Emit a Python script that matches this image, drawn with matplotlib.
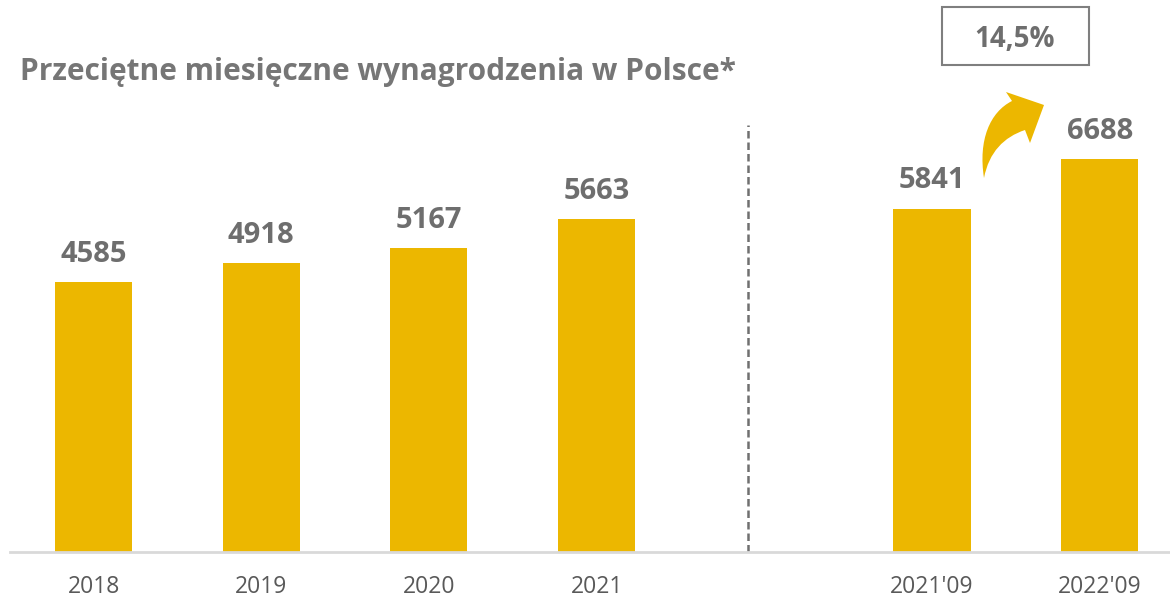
import matplotlib.pyplot as plt
import matplotlib.transforms as mtransforms
from matplotlib.path import Path
from matplotlib.patches import PathPatch

plt.rcParams['font.family'] = ['Open Sans', 'DejaVu Sans']

# data
labels = ['2018', '2019', '2020', '2021', "2021'09", "2022'09"]
wages = [4585, 4918, 5167, 5663, 5841, 6688]
positions = [0, 1, 2, 3, 5, 6]
growth_label = '14,5%'
title = 'Przeciętne miesięczne wynagrodzenia w Polsce*'

bar_color = '#ECB700'
text_gray = '#6e6e6e'
tick_gray = '#595959'

fig = plt.figure(figsize=(11.7, 6), dpi=100)
ax = fig.add_axes([10 / 1170, 1 - 551.5 / 600, 1160 / 1170, 551.5 / 600])

ax.bar(positions, wages, width=0.46, color=bar_color, zorder=2)
for x, v in zip(positions, wages):
    ax.annotate(f'{v}', (x, v), xytext=(0, 14.5), textcoords='offset points',
                ha='center', va='baseline', fontsize=21, fontweight='bold',
                color=text_gray)

ax.set_xlim(-0.498, 6.419)
ax.set_ylim(0, 551.5 / 0.0587)

for s in ['top', 'right', 'left']:
    ax.spines[s].set_visible(False)
ax.spines['bottom'].set_color('#d9d9d9')
ax.spines['bottom'].set_linewidth(2)
ax.set_yticks([])
ax.set_xticks(positions)
ax.set_xticklabels(labels, fontsize=16.5, color=tick_gray)
ax.tick_params(axis='x', length=0, pad=17)

# separator between yearly and monthly data
ax.plot([3.9, 3.9], [0, (551.5 - 125) / 0.0587], ls=(0, (3, 1.6)),
        color='#707070', lw=1.8, zorder=1)

fig.text(20 / 1170, 1 - 80 / 600, title, fontsize=21.5, fontweight='bold',
         color='#767676', ha='left', va='baseline')

# growth box
fig.text(1015 / 1170, 1 - 47 / 600, growth_label, fontsize=20, fontweight='bold',
         color=text_gray, ha='center', va='baseline')
box_tr = mtransforms.Affine2D().scale(1 / 1170, -1 / 600).translate(0, 1) + fig.transFigure
box = Path([(942, 7), (1089, 7), (1089, 65), (942, 65), (942, 7)],
           [Path.MOVETO, Path.LINETO, Path.LINETO, Path.LINETO, Path.CLOSEPOLY])
fig.patches.append(PathPatch(box, transform=box_tr, fill=False,
                             edgecolor='#7f7f7f', lw=1.5))

# curved arrow
verts = [(984, 178),
         (978, 140), (990, 112), (1012, 101),
         (1006, 92), (1044, 105), (1030, 143), (1025, 130),
         (1004, 137), (989, 152), (984, 178),
         (984, 178)]
codes = ([Path.MOVETO] + [Path.CURVE4] * 3 + [Path.LINETO] * 4 +
         [Path.CURVE4] * 3 + [Path.CLOSEPOLY])
fig.patches.append(PathPatch(Path(verts, codes), transform=box_tr,
                             facecolor=bar_color, edgecolor='none'))

fig.savefig('out.png', dpi=100)
